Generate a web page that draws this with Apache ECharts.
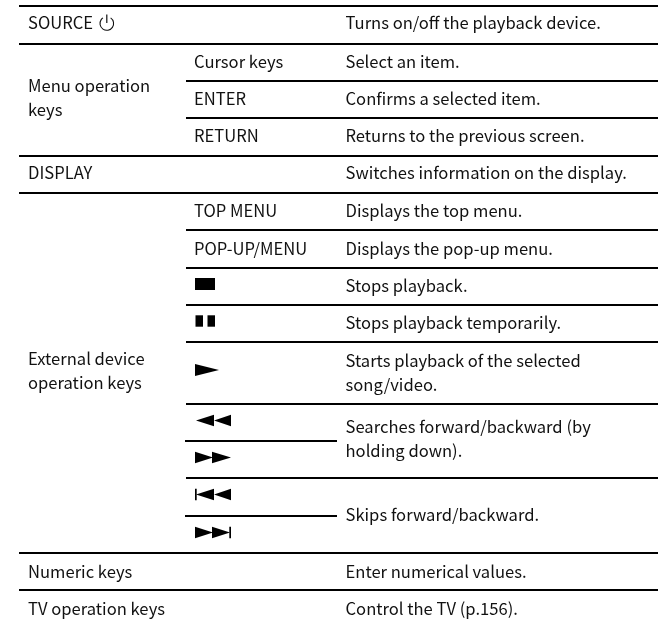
<!DOCTYPE html>
<html><head><meta charset="utf-8">
<style>html,body{margin:0;padding:0;background:#fff}#c{width:660px;height:627px}</style>
<script src="https://cdn.jsdelivr.net/npm/echarts@6/dist/echarts.min.js"></script>
</head><body><div id="c"></div>
<script>
// Table content
const groupLabels = ['SOURCE','Menu operation\nkeys','DISPLAY','External device\noperation keys','Numeric keys','TV operation keys'];
const keyLabels = ['Cursor keys','ENTER','RETURN','TOP MENU','POP-UP/MENU'];
const descriptions = [
  'Turns on/off the playback device.','Select an item.','Confirms a selected item.',
  'Returns to the previous screen.','Switches information on the display.','Displays the top menu.',
  'Displays the pop-up menu.','Stops playback.','Stops playback temporarily.',
  'Starts playback of the selected\nsong/video.','Searches forward/backward (by\nholding down).',
  'Skips forward/backward.','Enter numerical values.','Control the TV (p.156).'
];
const keyGlyphs = ['stop','pause','play','rewind','forward','skipBack','skipForward'];

// Layout (kept apart from the content)
const groupY = [23,98,173,371,571.5,608.5];
const keyY = [62,99,135.5,211,248.5];
const descY = [23,62,99,135.5,173,211,248.5,286,323,373,439,515,571.5,608.5];
const glyphY = [284,321,370,420.5,457.5,494.5,532.5];
const ruleSpans = [[6,19,658],[44,19,658],[81,186,658],[118,186,658],[156,19,658],[193,19,658],[230,186,658],[268,186,658],[305,186,658],[342,186,658],[404,186,658],[441,185,337],[478,186,658],[516,185,337],[553,19,658],[590,19,658]];
const X1 = 28, X2 = 194, X3 = 345.5;
const glyphShapes = {
  stop: [[[195,-6],[215,-6],[215,6],[195,6]]],
  pause: [[[195.5,-5.7],[203,-5.7],[203,5.7],[195.5,5.7]],[[207.5,-5.7],[215,-5.7],[215,5.7],[207.5,5.7]]],
  play: [[[195,-6],[219,0],[195,6]]],
  rewind: [[[196,0],[214,-5.7],[214,5.7]],[[214,0],[231,-5.7],[231,5.7]]],
  forward: [[[195,-5.7],[213,0],[195,5.7]],[[212,-5.7],[231,0],[212,5.7]]],
  skipBack: [[[195,-5.7],[196.7,-5.7],[196.7,5.7],[195,5.7]],[[196,0],[214,-5.7],[214,5.7]],[[214,0],[231,-5.7],[231,5.7]]],
  skipForward: [[[195,-5.7],[213,0],[195,5.7]],[[212,-5.7],[230,0],[212,5.7]],[[229.3,-5.7],[231,-5.7],[231,5.7],[229.3,5.7]]]
};
const FONT = '"Noto Sans CJK JP","Noto Sans",sans-serif';
const INK = '#111';

const textItem = (api, x, y, s) => {
  const p = api.coord([x, y]);
  return {type:'text', x:p[0], y:p[1], style:{text:s, fill:INK, font:'16.6px '+FONT, lineHeight:24, textAlign:'left', textVerticalAlign:'middle'}};
};
const textSeries = (labels, x, ys) => ({
  type:'custom', coordinateSystem:'cartesian2d', silent:true, clip:false,
  data: labels.map((s,i)=>[x, ys[i], s]),
  encode:{x:0,y:1},
  renderItem:(params, api)=>textItem(api, x, ys[params.dataIndex], labels[params.dataIndex])
});

const chart = echarts.init(document.getElementById('c'), null, {renderer:'canvas'});
chart.setOption({
  animation:false,
  backgroundColor:'#fff',
  grid:{left:0,right:0,top:0,bottom:0},
  xAxis:{type:'value',min:0,max:660,show:false},
  yAxis:{type:'value',min:0,max:627,inverse:true,show:false},
  series:[
    {type:'custom',coordinateSystem:'cartesian2d',silent:true,clip:false,
     data:ruleSpans.map(r=>[r[1],r[0],r[2]]),encode:{x:[0,2],y:1},
     renderItem:(params,api)=>{
       const a=api.coord([api.value(0),api.value(1)]), b=api.coord([api.value(2),api.value(1)]);
       return {type:'rect',shape:{x:a[0],y:a[1]-1,width:b[0]-a[0],height:2},style:{fill:'#000'}};
     }},
    textSeries(groupLabels,X1,groupY),
    textSeries(keyLabels,X2,keyY),
    textSeries(descriptions,X3,descY),
    {type:'custom',coordinateSystem:'cartesian2d',silent:true,clip:false,
     data:keyGlyphs.map((g,i)=>[X2,glyphY[i]]),encode:{x:0,y:1},
     renderItem:(params,api)=>{
       const g=keyGlyphs[params.dataIndex], y=glyphY[params.dataIndex];
       return {type:'group',children:glyphShapes[g].map(poly=>({type:'polygon',
         shape:{points:poly.map(pt=>api.coord([pt[0],y+pt[1]]))},style:{fill:'#000'}}))};
     }},
    // power symbol next to SOURCE
    {type:'custom',coordinateSystem:'cartesian2d',silent:true,clip:false,
     data:[[106.8,23.5]],encode:{x:0,y:1},
     renderItem:(params,api)=>{
       const c=api.coord([api.value(0),api.value(1)]);
       return {type:'group',children:[
         {type:'arc',shape:{cx:c[0],cy:c[1],r:6.8,startAngle:-Math.PI/2+0.6,endAngle:-Math.PI/2-0.6,clockwise:true},style:{stroke:INK,lineWidth:1.1,fill:'none'}},
         {type:'line',shape:{x1:c[0],y1:c[1]-9,x2:c[0],y2:c[1]-0.5},style:{stroke:INK,lineWidth:1.2}}
       ]};
     }}
  ]
});
</script></body></html>
